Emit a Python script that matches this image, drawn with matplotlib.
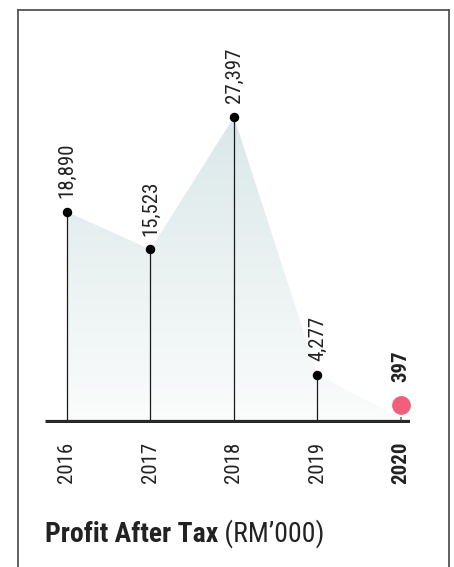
import numpy as np
import matplotlib.pyplot as plt
from matplotlib.lines import Line2D
from matplotlib.patches import Polygon
from matplotlib.transforms import offset_copy

years = ['2016', '2017', '2018', '2019', '2020']
profit = [18890, 15523, 27397, 4277, 397]
labels = ['18,890', '15,523', '27,397', '4,277', '397']

W, H = 454, 567
plt.rcParams['font.family'] = ['Roboto Condensed', 'DejaVu Sans']

fig = plt.figure(figsize=(W / 100, H / 100), dpi=100)

# frame (open at the bottom)
for xs, ys in [([18, 18], [H, 10]), ([18, 449], [10, 10]), ([449, 449], [10, H])]:
    fig.add_artist(Line2D([x / W for x in xs], [1 - y / H for y in ys],
                          color='#555555', lw=1.3))

base = 422.5
top = 20
ax = fig.add_axes([45 / W, 1 - base / H, 365 / W, (base - top) / H])
scale = (base - 117) / max(profit)
ax.set_ylim(0, (base - top) / scale)
ax.set_xlim(-0.263, 4.108)
ax.axis('off')

x = np.arange(len(years))

# gradient fill under the line
poly = Polygon(list(zip(x, profit)) + [(x[-1], 0), (x[0], 0)], closed=True,
               facecolor='none', edgecolor='none')
ax.add_patch(poly)
grad = np.linspace(0, 1, 256).reshape(-1, 1)
c_top = np.array([218, 232, 233]) / 255
c_bot = np.array([251, 252, 252]) / 255
img = c_bot + (c_top - c_bot) * grad[..., None]
im = ax.imshow(img, extent=(x[0], x[-1], 0, max(profit)), origin='lower',
               aspect='auto', zorder=1)
im.set_clip_path(poly)

# stems + dots
for i in range(4):
    ax.plot([x[i], x[i]], [0, profit[i]], color='#1a1a1a', lw=0.9, zorder=2)
    ax.plot(x[i], profit[i], 'o', color='black', ms=5.8, zorder=4)
    ax.annotate(labels[i], (x[i], profit[i]), xytext=(0, 10),
                textcoords='offset points', rotation=90, ha='center',
                va='bottom', fontsize=15, color='#222222')

# last year, lifted a little so the dot clears the baseline
lift = offset_copy(ax.transData, fig=fig, x=0, y=9.5, units='points')
ax.plot([x[4], x[4]], [0, profit[4]], color='#8a8a8a', lw=1.4, zorder=2)
ax.plot([x[4], x[4]], [0, profit[4]], color='#8a8a8a', lw=1.4,
        transform=lift, zorder=2)
ax.plot(x[4], profit[4], 'o', color='#f0607a', ms=12.5, transform=lift, zorder=4)
ax.annotate(labels[4], (x[4], profit[4]), xytext=(0, 26),
            textcoords='offset points', rotation=90, ha='center',
            va='bottom', fontsize=15, fontweight='bold', color='#222222')

# baseline
ax.axhline(0, xmin=0, xmax=1, color='#282828', lw=5.2, zorder=5,
           solid_capstyle='butt')

# year labels
for i, yr in enumerate(years):
    ax.annotate(yr, (x[i], 0), xytext=(0, -14), textcoords='offset points',
                rotation=90, ha='center', va='top', fontsize=15,
                color='#222222', fontweight='bold' if i == 4 else 'normal')

t1 = fig.text(45 / W, 1 - 542 / H, 'Profit After Tax', fontsize=20,
              fontweight='bold', color='#222222', va='baseline')
ax.annotate(' (RM\u2019000)', xy=(1, 0), xycoords=t1, va='bottom', ha='left',
            fontsize=20, color='#222222')

fig.savefig('out.png', dpi=100)
